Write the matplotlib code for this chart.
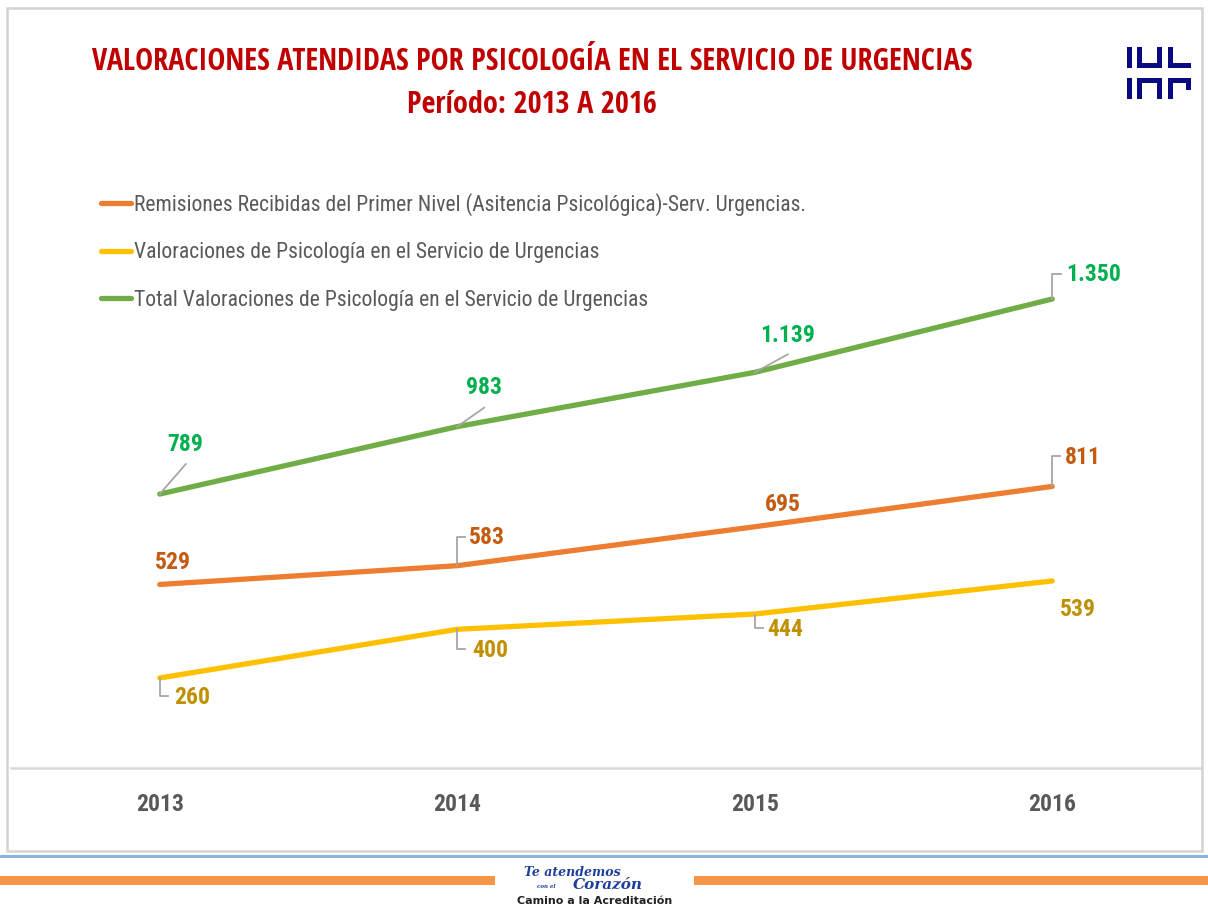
import matplotlib
matplotlib.use("Agg")
import matplotlib.pyplot as plt
from matplotlib.lines import Line2D
from matplotlib.patches import Rectangle
from matplotlib.transforms import IdentityTransform

# ---------------- data ----------------
years = ["2013", "2014", "2015", "2016"]
remisiones = [529, 583, 695, 811]
valoraciones = [260, 400, 444, 539]
total = [789, 983, 1139, 1350]

series_names = [
    "Remisiones Recibidas del Primer Nivel (Asitencia Psicológica)-Serv. Urgencias.",
    "Valoraciones de Psicología en el Servicio de Urgencias",
    "Total Valoraciones de Psicología en el Servicio de Urgencias",
]
title_line1 = "VALORACIONES ATENDIDAS POR PSICOLOGÍA EN EL SERVICIO DE URGENCIAS"
title_line2 = "Período: 2013 A 2016"

# ---------------- style ----------------
line_colors = ["#ED7D31", "#FFC000", "#70AD47"]
label_colors = ["#C55A11", "#BF9000", "#00B050"]
NARROW = ["Roboto Condensed", "DejaVu Sans"]
TITLEF = ["Open Sans Condensed", "Carlito", "DejaVu Sans"]

W, H = 1208, 908
fig = plt.figure(figsize=(W / 100, H / 100), dpi=100)
fig.patch.set_facecolor("white")

def fx(px):
    return px / W

def fy(py):
    return 1 - py / H

# outer frame
fig.add_artist(Rectangle((fx(7), fy(851)), fx(1202) - fx(7), fy(8) - fy(851),
                         transform=fig.transFigure, fill=False,
                         edgecolor="#D4D4D4", linewidth=1.8))

# axes
ax_left, ax_right = 11, 1201
ax_bottom_px = 768.4
ax_top_px = 177
ax = fig.add_axes([fx(ax_left), fy(ax_bottom_px), fx(ax_right) - fx(ax_left),
                   (ax_bottom_px - ax_top_px) / H])
ax.set_facecolor("none")
x = list(range(len(years)))
all_series = [remisiones, valoraciones, total]
for vals, c, name in zip(all_series, line_colors, series_names):
    ax.plot(x, vals, color=c, linewidth=3.8, solid_capstyle="round", label=name)

ax.set_xlim(-0.5, len(years) - 0.5)
ax.set_ylim(0, (ax_bottom_px - ax_top_px) * 2.876)
ax.set_yticks([])
ax.set_xticks(x)
ax.set_xticklabels(years, fontsize=17, fontweight="bold", color="#595959", family=NARROW)
ax.tick_params(axis="x", length=0, pad=17.5)
for s in ["top", "right", "left"]:
    ax.spines[s].set_visible(False)
ax.spines["bottom"].set_color("#D9D9D9")
ax.spines["bottom"].set_linewidth(1.8)

# legend
leg = ax.legend(loc="upper left", frameon=False,
                prop={"family": NARROW, "size": 15.6}, handlelength=1.38,
                handletextpad=0.14, labelspacing=1.22, borderaxespad=0)
leg.set_bbox_to_anchor((fx(92), fy(184)), transform=fig.transFigure)
for t in leg.get_texts():
    t.set_color("#595959")

# data labels (offsets in pixels relative to the point; y up)
label_offsets = [
    [(13, 22), (30, 28), (28, 22), (31, 29)],
    [(32, -20), (33, -21), (31, -15), (26, -29)],
    [(25, 50), (27, 39), (33, 37), (41, 24)],
]
leaders = [
    [None, [(0, 0), (0, 29), (8, 29)], None, [(0, 0), (0, 30), (8, 30)]],
    [[(0, 0), (0, -18), (8, -18)], [(0, 0), (0, -20), (8, -20)], [(0, -1), (0, -14), (8, -14)], None],
    [[(0, 0), (26, 30)], [(0, 0), (27, 19)], [(0, 0), (33, 18)], [(0, 0), (0, 25), (9, 25)]],
]

def fmt(v):
    return f"{v:,}".replace(",", ".")

fig.canvas.draw()
for vals, lc, offs, leads in zip(all_series, label_colors, label_offsets, leaders):
    for i, v in enumerate(vals):
        dx, dy = offs[i]
        ax.annotate(fmt(v), (i, v), xytext=(dx, dy), textcoords="offset pixels",
                    ha="center", va="center", fontsize=17, fontweight="bold",
                    color=lc, family=NARROW)
        if leads[i] is not None:
            px, py = ax.transData.transform((i, v))
            xs = [px + a for a, b in leads[i]]
            ys = [py + b for a, b in leads[i]]
            fig.add_artist(Line2D(xs, ys, transform=IdentityTransform(),
                                  color="#A6A6A6", linewidth=1.3))

# titles
fig.text(fx(532), fy(62), title_line1, ha="center", va="center", fontsize=21.8,
         fontweight="bold", color="#C00000", family=TITLEF)
fig.text(fx(532), fy(105), title_line2, ha="center", va="center", fontsize=21.8,
         fontweight="bold", color="#C00000", family=TITLEF)

# logo (top right)
navy = "#0A0A80"
def rect(x0, y0, x1, y1, color):
    fig.add_artist(Rectangle((fx(x0), fy(y1)), fx(x1) - fx(x0), fy(y0) - fy(y1),
                             transform=fig.transFigure, color=color, linewidth=0))
for xb in (1127, 1137, 1157, 1168):
    rect(xb, 47, xb + 5, 68, navy)
rect(1137, 63, 1162, 68, navy)
rect(1168, 63, 1191, 68, navy)
for xb in (1127, 1137, 1157, 1168):
    rect(xb, 78, xb + 5, 99, navy)
rect(1137, 78, 1162, 83, navy)
rect(1168, 78, 1191, 83, navy)
rect(1186, 78, 1191, 90, navy)

# footer
fig.add_artist(Line2D([0, 1], [fy(856), fy(856)], transform=fig.transFigure,
                      color="#8DB3E2", linewidth=2.2))
rect(0, 876, 495, 885, "#F79646")
rect(694, 876, 1208, 885, "#F79646")
fig.text(fx(572), fy(872), "Te atendemos", ha="center", va="center", fontsize=9,
         fontweight="bold", style="italic", color="#1F3E9C", family="DejaVu Serif")
fig.text(fx(546), fy(887), "con el", ha="center", va="center", fontsize=4,
         fontweight="bold", style="italic", color="#1F3E9C", family="DejaVu Serif")
fig.text(fx(608), fy(885), "Corazón", ha="center", va="center", fontsize=11,
         fontweight="bold", style="italic", color="#1F3E9C", family="DejaVu Serif")
fig.text(fx(595), fy(901), "Camino a la Acreditación", ha="center", va="center",
         fontsize=8, fontweight="bold", color="#222222", family="DejaVu Sans")

fig.savefig("out.png", dpi=100, facecolor="white")
